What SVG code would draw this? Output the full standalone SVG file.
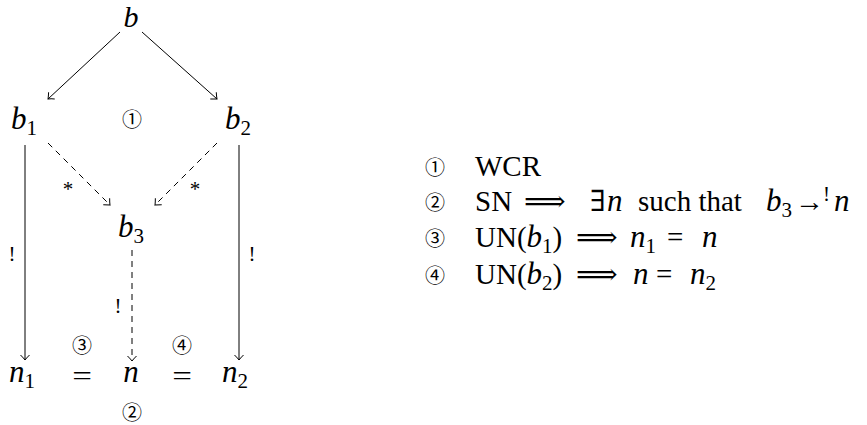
<svg xmlns="http://www.w3.org/2000/svg" width="867" height="425" viewBox="0 0 867 425">
<defs>
<marker id="to" viewBox="-7 -6 9 12" markerWidth="9" markerHeight="12" refX="0" refY="0" orient="auto" markerUnits="userSpaceOnUse">
<path d="M-5,-4.5 Q-1.5,-1 0,0 Q-1.5,1 -5,4.5" fill="none" stroke="#000" stroke-width="1"/>
</marker>
</defs>
<style>
.m{font-family:"Liberation Serif",serif;font-style:italic;font-size:31px}
.r{font-family:"Liberation Serif",serif;font-size:29px}
.s{font-family:"Liberation Serif",serif;font-style:normal;font-size:21px}
.c{font-family:"Noto Sans CJK JP","DejaVu Sans",sans-serif;font-size:20px}
.e{stroke:#000;stroke-width:1;fill:none}
.d{stroke-dasharray:6 5}
.l{font-family:"Liberation Serif",serif;font-size:21px}
.q{font-family:"Liberation Serif",serif;font-size:28px}
.sym{font-family:"DejaVu Serif",serif;font-style:normal}
</style>
<rect width="867" height="425" fill="#fff"/>
<g id="connectors">
<line class="e" x1="120" y1="32" x2="48" y2="99" marker-end="url(#to)"/>
<line class="e" x1="142" y1="32" x2="217" y2="99" marker-end="url(#to)"/>
<line class="e" x1="25" y1="145" x2="25" y2="360" marker-end="url(#to)"/>
<line class="e" x1="239" y1="145" x2="239" y2="360" marker-end="url(#to)"/>
<line class="e d" x1="48" y1="143" x2="110" y2="205" marker-end="url(#to)"/>
<line class="e d" x1="217" y1="143" x2="155" y2="205" marker-end="url(#to)"/>
<line class="e d" x1="132" y1="250" x2="132" y2="361" marker-end="url(#to)"/>
<text class="l" x="68" y="196" text-anchor="middle">*</text>
<text class="l" x="195" y="196" text-anchor="middle">*</text>
<text class="l" x="12" y="261" text-anchor="middle">!</text>
<text class="l" x="252" y="261" text-anchor="middle">!</text>
<text class="l" x="118" y="313" text-anchor="middle">!</text>
</g>
<g id="node-b"><text class="m" x="131" y="27" text-anchor="middle" style="font-size:30px">b</text></g>
<g id="node-b1"><text class="m" x="11" y="129">b<tspan class="s" dy="6">1</tspan></text></g>
<g id="node-b2"><text class="m" x="225" y="129">b<tspan class="s" dy="6">2</tspan></text></g>
<g id="node-b3"><text class="m" x="118" y="237">b<tspan class="s" dy="6">3</tspan></text></g>
<g id="node-n1"><text class="m" x="9" y="382">n<tspan class="s" dy="6">1</tspan></text></g>
<g id="node-n"><text class="m" x="131" y="382" text-anchor="middle">n</text></g>
<g id="node-n2"><text class="m" x="222" y="382">n<tspan class="s" dy="6">2</tspan></text></g>
<g id="eq1"><text class="q" x="0" y="385" text-anchor="middle" transform="translate(82 0) scale(1.25 1)">=</text></g>
<g id="eq2"><text class="q" x="0" y="385" text-anchor="middle" transform="translate(182 0) scale(1.25 1)">=</text></g>
<g id="marks">
<text class="c" x="132" y="127" text-anchor="middle">①</text>
<text class="c" x="82" y="353" text-anchor="middle">③</text>
<text class="c" x="182" y="353" text-anchor="middle">④</text>
<text class="c" x="132" y="420" text-anchor="middle">②</text>
</g>
<g id="legend">
<text class="c" x="435" y="175" text-anchor="middle">①</text>
<text class="c" x="435" y="210" text-anchor="middle">②</text>
<text class="c" x="435" y="246" text-anchor="middle">③</text>
<text class="c" x="435" y="283" text-anchor="middle">④</text>
<text class="r" x="475" y="176">WCR</text>
<text class="r" x="475" y="211">SN<tspan class="sym" x="524">⟹</tspan><tspan class="sym" x="590">∃</tspan><tspan class="m" x="607">n</tspan><tspan x="638">such that</tspan><tspan class="m" x="766">b</tspan><tspan class="s" dy="6">3</tspan><tspan x="795" dy="-6">→</tspan><tspan class="s" x="823" dy="-10">!</tspan><tspan class="m" x="834" dy="10">n</tspan></text>
<text class="r" x="475" y="247">UN(<tspan class="m">b</tspan><tspan class="s" dy="6">1</tspan><tspan dy="-6">)</tspan><tspan class="sym" x="576">⟹</tspan><tspan class="m" x="630">n</tspan><tspan class="s" dy="6">1</tspan><tspan x="667" dy="-6">=</tspan><tspan class="m" x="702">n</tspan></text>
<text class="r" x="475" y="284">UN(<tspan class="m">b</tspan><tspan class="s" dy="6">2</tspan><tspan dy="-6">)</tspan><tspan class="sym" x="576">⟹</tspan><tspan class="m" x="633">n</tspan><tspan x="656">=</tspan><tspan class="m" x="690">n</tspan><tspan class="s" dy="6">2</tspan></text>
</g>
</svg>
